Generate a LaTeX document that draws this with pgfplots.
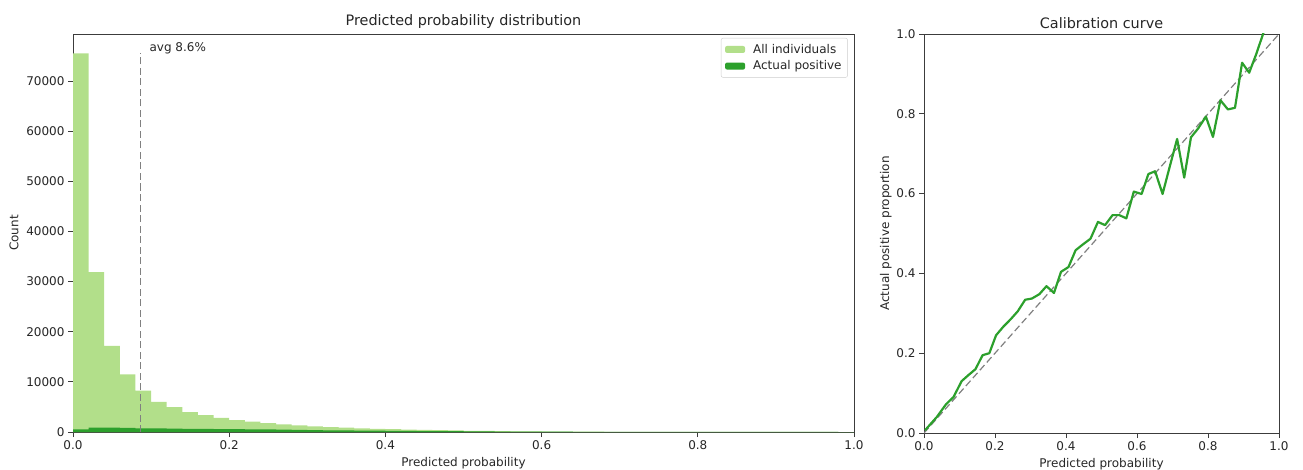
\documentclass[border=0pt]{standalone}
\usepackage{pgfplots}
\pgfplotsset{compat=1.18}
\usepackage{fontspec}
\setmainfont{DejaVu Sans}
\definecolor{lightg}{RGB}{178,223,138}
\definecolor{darkg}{RGB}{44,160,44}
\definecolor{spine}{RGB}{60,60,60}
\begin{document}
\begin{tikzpicture}
\path[use as bounding box] (0pt,0pt) rectangle (1303pt,469pt);
\pgfplotsset{
  mpl/.style={
    scale only axis,
    /pgf/number format/assume math mode=true,
    tick label style={font=\fontsize{12}{14}\selectfont, text=black!85},
    label style={font=\fontsize{12}{14}\selectfont, text=black!85},
    title style={font=\fontsize{14.4}{16}\selectfont, text=black!85, yshift=-4pt},
    axis line style={spine, line width=0.9pt},
    tick style={spine, line width=0.8pt},
    tick align=outside,
    major tick length=5pt,
    xtick pos=bottom, ytick pos=left,
    xmin=0, xmax=1,
    xtick={0,0.2,0.4,0.6,0.8,1.0},
    xticklabel style={/pgf/number format/.cd, fixed, fixed zerofill, precision=1},
    xlabel={Predicted probability},
    xlabel style={yshift=-1pt},
  }
}
\begin{axis}[mpl,
  at={(73pt,37pt)}, anchor=south west,
  width=781pt, height=398pt,
  ymin=0, ymax=79400,
  ytick={0,10000,20000,30000,40000,50000,60000,70000},
  scaled y ticks=false,
  yticklabel style={/pgf/number format/.cd, fixed, 1000 sep={}},
  ylabel={Count},
  ylabel style={yshift=1pt},
  title={Predicted probability distribution},
  legend style={at={(0.992,0.99)}, anchor=north east, draw=black!20, rounded corners=2pt,
    font=\fontsize{12}{14}\selectfont, text=black!85, row sep=2pt, inner sep=4pt},
  legend cell align=left,
  legend image code/.code={\fill[#1] (0pt,-3.5pt) rectangle (20pt,3.5pt); \path (26pt,0pt);},
]
\addplot[const plot mark left, fill=lightg, draw=none] coordinates {
(0.00,75550) (0.02,31900) (0.04,17200) (0.06,11500) (0.08,8250) (0.10,6000)
(0.12,4950) (0.14,3950) (0.16,3350) (0.18,2800) (0.20,2350) (0.22,2050)
(0.24,1750) (0.26,1500) (0.28,1300) (0.30,1120) (0.32,980) (0.34,850)
(0.36,740) (0.38,640) (0.40,560) (0.42,480) (0.44,410) (0.46,350)
(0.48,300) (0.50,250) (0.52,210) (0.54,175) (0.56,145) (0.58,120)
(0.60,100) (0.62,80) (0.64,65) (0.66,52) (0.68,42) (0.70,33)
(0.72,26) (0.74,20) (0.76,16) (0.78,12) (0.80,9) (0.82,7)
(0.84,5) (0.86,4) (0.88,3) (0.90,2) (0.92,2) (0.94,1) (0.96,1) (0.98,0) (1.00,0)
} \closedcycle;
\addlegendentry{All individuals}
\addplot[const plot mark left, fill=darkg, draw=none] coordinates {
(0.00,500) (0.02,850) (0.04,850) (0.06,800) (0.08,740) (0.10,720)
(0.12,690) (0.14,610) (0.16,640) (0.18,560) (0.20,560) (0.22,540)
(0.24,500) (0.26,460) (0.28,430) (0.30,380) (0.32,340) (0.34,310)
(0.36,260) (0.38,260) (0.40,230) (0.42,220) (0.44,190) (0.46,170)
(0.48,160) (0.50,130) (0.52,115) (0.54,95) (0.56,78) (0.58,72)
(0.60,60) (0.62,52) (0.64,43) (0.66,31) (0.68,28) (0.70,24)
(0.72,17) (0.74,15) (0.76,12) (0.78,9) (0.80,7) (0.82,6)
(0.84,4) (0.86,3) (0.88,3) (0.90,2) (0.92,2) (0.94,1) (0.96,1) (0.98,0) (1.00,0)
} \closedcycle;
\addlegendentry{Actual positive}
\addplot[gray, line width=1.2pt, dash pattern=on 7pt off 3.5pt, forget plot] coordinates {(0.086,0) (0.086,75600)};
\node[anchor=west, font=\fontsize{12}{14}\selectfont, text=black!85] at (axis cs:0.0935,76600) {avg 8.6\%};
\end{axis}
\begin{axis}[mpl,
  at={(924pt,36pt)}, anchor=south west,
  width=355pt, height=399pt,
  ymin=0, ymax=1,
  ytick={0,0.2,0.4,0.6,0.8,1.0},
  yticklabel style={/pgf/number format/.cd, fixed, fixed zerofill, precision=1},
  ylabel={Actual positive proportion},
  ylabel style={yshift=-2pt},
  title={Calibration curve},
]
\addplot[gray, line width=1.2pt, dash pattern=on 7pt off 3.5pt] coordinates {(0,0) (1,1)};
\addplot[darkg, line width=2.2pt, line join=round] coordinates {
(0.003,0.007) (0.036,0.040) (0.062,0.072) (0.083,0.090) (0.106,0.130)
(0.125,0.145) (0.145,0.160) (0.165,0.195) (0.184,0.200) (0.203,0.245)
(0.223,0.266) (0.244,0.285) (0.264,0.305) (0.285,0.334) (0.304,0.337)
(0.325,0.348) (0.345,0.368) (0.366,0.351) (0.386,0.404) (0.407,0.416)
(0.427,0.458) (0.448,0.473) (0.469,0.487) (0.490,0.529) (0.510,0.521)
(0.531,0.546) (0.550,0.546) (0.570,0.538) (0.591,0.605) (0.613,0.599)
(0.632,0.649) (0.651,0.656) (0.672,0.599) (0.692,0.667) (0.713,0.737)
(0.733,0.640) (0.752,0.741) (0.772,0.763) (0.794,0.793) (0.814,0.742)
(0.835,0.834) (0.856,0.811) (0.876,0.815) (0.896,0.928) (0.916,0.903)
(0.936,0.950) (0.955,1.000) (0.975,1.050)
};
\end{axis}
\end{tikzpicture}
\end{document}
